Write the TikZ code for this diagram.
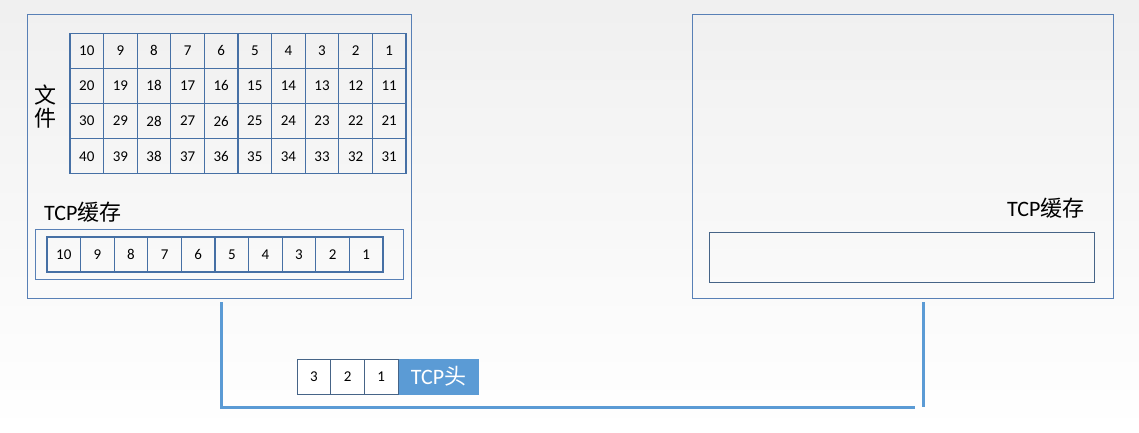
\documentclass[tikz,border=0pt]{standalone}
\usepackage{fontspec}
\setmainfont{Carlito}
\newfontfamily\cjk{Noto Sans CJK SC}
\definecolor{cellblue}{RGB}{70,112,165}
\definecolor{boxblue}{RGB}{88,128,182}
\definecolor{wireblue}{RGB}{91,155,213}
\definecolor{pktborder}{RGB}{70,100,135}
\begin{document}
\begin{tikzpicture}[x=1pt,y=-1pt,
  cell/.style={draw=cellblue, line width=1.2pt, minimum width=33.6pt, minimum height=35pt, inner sep=0pt, font=\fontsize{15}{17}\selectfont},
  pktcell/.style={draw=pktborder, fill=white, line width=1pt, minimum width=33.6pt, minimum height=35pt, inner sep=0pt, font=\fontsize{15}{17}\selectfont},
  hostbox/.style={draw=boxblue, line width=1pt, inner sep=0pt, anchor=north west},
  lbl/.style={font=\fontsize{22}{24}\selectfont, inner sep=0pt, anchor=west},
  wire/.style={draw=wireblue, line width=3pt}]
\shade[top color=black!6, bottom color=white] (0,0) rectangle (1139,432);
\useasboundingbox (0,0) rectangle (1139,432);
% hosts
\node[hostbox, minimum width=384pt, minimum height=284pt] (hostA) at (27,14) {};
\node[hostbox, minimum width=421pt, minimum height=284pt] (hostB) at (692,14) {};
% file grid
\foreach \r in {0,...,3}{
  \foreach \c in {0,...,9}{
    \pgfmathtruncatemacro{\n}{10*\r+10-\c}
    \node[cell] (g-\r-\c) at ({70+33.6*(\c+0.5)},{33+35.2*(\r+0.5)}) {\n};
  }
}
\node[align=center, inner sep=0pt, font=\cjk\fontsize{22}{23}\selectfont] (file) at (45,106.5) {文\\件};
% TCP buffer A
\node[lbl] (labA) at (44,212) {TCP{\cjk 缓存}};
\node[hostbox, minimum width=368pt, minimum height=50pt] (bufA) at (35,229) {};
\foreach \c in {0,...,9}{
  \pgfmathtruncatemacro{\n}{10-\c}
  \node[cell] (b-\c) at ({47+33.6*(\c+0.5)},254.5) {\n};
}
% TCP buffer B
\node[lbl] (labB) at (1007,208) {TCP{\cjk 缓存}};
\node[hostbox, draw=pktborder, minimum width=385pt, minimum height=50pt] (bufB) at (709,232) {};
% wire
\coordinate (w1) at (221,302);
\coordinate (w2) at (221,407);
\coordinate (w3) at (915,407);
\coordinate (w4) at (923,302);
\coordinate (w5) at (923,407);
\draw[wire] (w1) -- (w2) -- (w3);
\draw[wire] (w4) -- (w5);
% packet
\node[pktcell] (p3) at (314,376.5) {3};
\node[pktcell] (p2) at (347.6,376.5) {2};
\node[pktcell] (p1) at (381.2,376.5) {1};
\node[draw=wireblue, fill=wireblue, text=white, line width=1pt, minimum width=79pt, minimum height=35pt, inner sep=0pt, font=\fontsize{22}{24}\selectfont] (hdr) at (438.5,376.5) {TCP{\cjk 头}};
\end{tikzpicture}
\end{document}
